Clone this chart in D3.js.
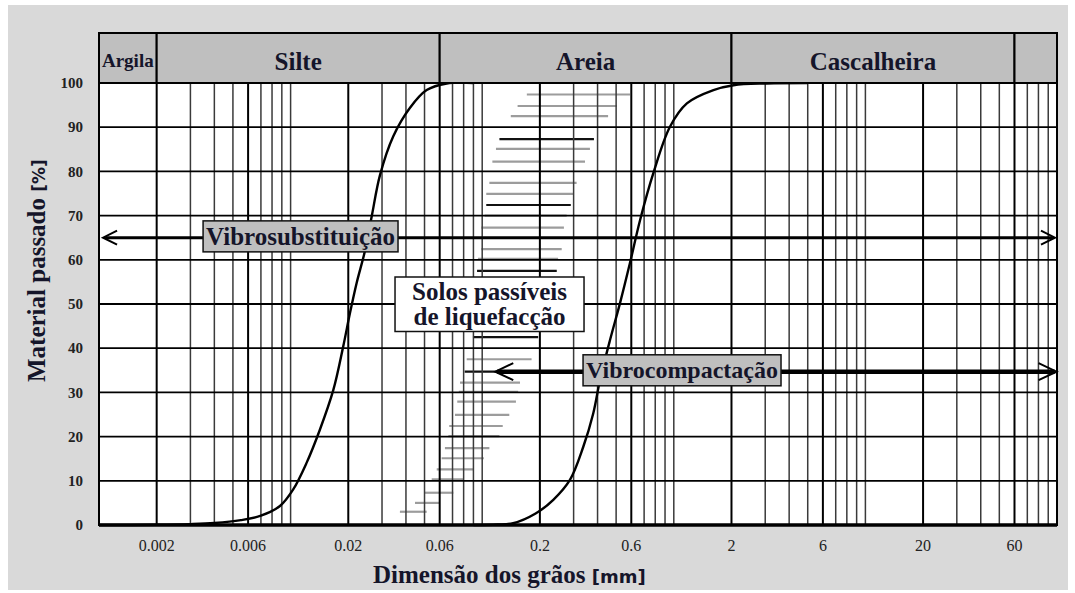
<!DOCTYPE html>
<html><head><meta charset="utf-8">
<script src="https://cdn.jsdelivr.net/npm/d3@7"></script>
<style>html,body{margin:0;padding:0;background:#fff;} svg{display:block}</style>
</head><body><svg id="c" width="1075" height="593"></svg>
<script>
// ---------- data ----------
const xTickLabels = [0.002, 0.006, 0.02, 0.06, 0.2, 0.6, 2, 6, 20, 60];
const yTickValues = [0, 10, 20, 30, 40, 50, 60, 70, 80, 90, 100];
const zoneNames = ["Argila", "Silte", "Areia", "Cascalheira", ""];
const zoneBounds = [0.001, 0.002, 0.06, 2, 60, 100];

const fineSize = [0.001, 0.002, 0.003, 0.004, 0.0055, 0.007, 0.0088, 0.0103, 0.0121, 0.0142, 0.0167, 0.0188, 0.0204, 0.0221, 0.0245, 0.0265, 0.0293, 0.0344, 0.042, 0.0513, 0.0653, 0.09];
const finePct  = [0, 0.05, 0.2, 0.45, 1.1, 2.1, 4.3, 8.0, 14, 21.5, 30.5, 40.3, 47.9, 54.7, 62.2, 69.8, 79.2, 88.0, 94.4, 98.4, 99.9, 100];

const coarseSize = [0.09, 0.12, 0.145, 0.19, 0.235, 0.287, 0.337, 0.38, 0.412, 0.465, 0.524, 0.59, 0.667, 0.782, 0.955, 1.17, 1.61, 2.05, 3.05, 5];
const coarsePct  = [0, 0.1, 0.4, 2.6, 5.7, 10.2, 17.7, 25.3, 32.8, 41.9, 50.2, 59.2, 69, 79.6, 90.1, 95.4, 98.4, 99.5, 99.9, 100];

// liquefiable-soil band (horizontal hatch lines)
const bandPct = [97.4, 94.8, 92.5, 87.3, 85.1, 82.2, 77.4, 74.9, 72.4, 70.0, 67.3, 62.4, 60.2, 57.5, 42.5, 37.5, 34.7, 32.2, 30.1, 27.9, 24.9, 22.4, 20.1, 17.4, 15.1, 12.6, 10.3, 7.3, 5.0, 3.0];
const bandMin = [0.171, 0.153, 0.141, 0.123, 0.118, 0.113, 0.109, 0.105, 0.105, 0.103, 0.099, 0.099, 0.095, 0.094, 0.0895, 0.083, 0.081, 0.0766, 0.0755, 0.0741, 0.0721, 0.0673, 0.0666, 0.0639, 0.0614, 0.0579, 0.0545, 0.0503, 0.0446, 0.0372];
const bandMax = [0.591, 0.505, 0.454, 0.383, 0.365, 0.344, 0.311, 0.301, 0.290, 0.276, 0.267, 0.260, 0.249, 0.245, 0.196, 0.181, 0.158, 0.1575, 0.154, 0.150, 0.1385, 0.128, 0.123, 0.109, 0.102, 0.090, 0.080, 0.0707, 0.0602, 0.0513];

const arrowNames = ["Vibrosubstituição", "Vibrocompactação"];
const arrowPct = [65, 34.7];
const arrowFrom = [0.00105, 0.117];
const arrowTo = [97.6, 99.5];
const arrowLabelAt = [0.01127, 1.104];
const arrowLabelPct = [65.3, 35];

const noteLines = ["Solos passíveis", "de liquefacção"];
const noteAt = [0.1092, 50];

const xTitle = "Dimensão dos grãos";
const xUnit = "[mm]";
const yTitle = "Material passado";
const yUnit = "[%]";

// ---------- styles ----------
const SERIF = "'Liberation Serif','Times New Roman',serif";
const SANS = "'DejaVu Sans',Verdana,sans-serif";
const TXT = "#15152a";
const darkBands = [3, 8, 13, 14, 16];

// ---------- drawing ----------
const svg = d3.select("#c");
const x = d3.scaleLog().domain([0.001, 100]).range([99, 1057]);
const y = d3.scaleLinear().domain([0, 100]).range([525, 83]);
const headerTop = 33;

svg.append("rect").attr("x", 8).attr("y", 5).attr("width", 1060).attr("height", 585).attr("fill", "#d9d9d9");
svg.append("rect").attr("x", x(0.001)).attr("y", y(100)).attr("width", x(100) - x(0.001)).attr("height", y(0) - y(100)).attr("fill", "#fff");

// hatch band
const bands = d3.range(bandPct.length);
svg.append("g").selectAll("line").data(bands).join("line")
  .attr("x1", i => x(bandMin[i])).attr("x2", i => x(bandMax[i]))
  .attr("y1", i => y(bandPct[i])).attr("y2", i => y(bandPct[i]))
  .attr("stroke", i => darkBands.includes(i) ? "#111" : "#9c9c9c")
  .attr("stroke-width", 2.2);

// vertical grid
const vgrid = [];
for (let k = -3; k <= 1; k++) for (let m = 1; m <= 9; m++) {
  const v = +(m * Math.pow(10, k)).toPrecision(6);
  if (v > 0.001 && v < 100) vgrid.push(v);
}
const isMajor = v => xTickLabels.some(t => Math.abs(t - v) / t < 1e-6);
svg.append("g").selectAll("line").data(vgrid).join("line")
  .attr("x1", d => x(d)).attr("x2", d => x(d))
  .attr("y1", y(0)).attr("y2", y(100))
  .attr("stroke", d => isMajor(d) ? "#000" : "#3a3a3a")
  .attr("stroke-width", d => isMajor(d) ? 2 : 1.5);

// horizontal grid
svg.append("g").selectAll("line").data(yTickValues.filter(v => v > 0 && v < 100)).join("line")
  .attr("x1", x(0.001)).attr("x2", x(100))
  .attr("y1", d => y(d)).attr("y2", d => y(d))
  .attr("stroke", "#000").attr("stroke-width", 1.8);

// curves
const line = d3.line().x(d => x(d[0])).y(d => y(d[1])).curve(d3.curveCatmullRom.alpha(0.5));
svg.append("path").attr("d", line(d3.zip(fineSize, finePct))).attr("fill", "none").attr("stroke", "#000").attr("stroke-width", 2.4);
svg.append("path").attr("d", line(d3.zip(coarseSize, coarsePct))).attr("fill", "none").attr("stroke", "#000").attr("stroke-width", 2.4);

// frame
svg.append("rect").attr("x", x(0.001)).attr("y", y(100)).attr("width", x(100) - x(0.001)).attr("height", y(0) - y(100))
  .attr("fill", "none").attr("stroke", "#000").attr("stroke-width", 2);
svg.append("line").attr("x1", x(0.001)).attr("x2", x(100)).attr("y1", y(0)).attr("y2", y(0)).attr("stroke", "#000").attr("stroke-width", 3.5);

// header band
const zones = d3.range(zoneNames.length);
const hg = svg.append("g");
hg.selectAll("rect").data(zones).join("rect")
  .attr("x", i => x(zoneBounds[i])).attr("width", i => x(zoneBounds[i + 1]) - x(zoneBounds[i]))
  .attr("y", headerTop).attr("height", y(100) - headerTop)
  .attr("fill", "#bfbfbf").attr("stroke", "#000").attr("stroke-width", 2);
hg.selectAll("text").data(zones).join("text")
  .attr("x", i => (x(zoneBounds[i]) + x(zoneBounds[i + 1])) / 2)
  .attr("y", i => i === 0 ? 67 : 70)
  .attr("text-anchor", "middle")
  .attr("font-family", SERIF).attr("font-weight", "bold")
  .attr("font-size", i => i === 0 ? 19 : 25)
  .attr("fill", TXT)
  .text(i => zoneNames[i]);

// axis ticks labels
svg.append("g").selectAll("text").data(yTickValues).join("text")
  .attr("x", 83).attr("y", d => y(d)).attr("dy", "0.35em")
  .attr("text-anchor", "end").attr("font-family", SERIF).attr("font-weight", "bold").attr("font-size", 15)
  .attr("fill", "#222").text(d => d);
svg.append("g").selectAll("text").data(xTickLabels).join("text")
  .attr("x", d => x(d)).attr("y", 551)
  .attr("text-anchor", "middle").attr("font-family", SERIF).attr("font-size", 16)
  .attr("fill", "#222").text(d => d);

// axis titles
const xt = svg.append("text").attr("x", 373).attr("y", 583).attr("fill", TXT);
xt.append("tspan").attr("font-family", SERIF).attr("font-weight", "bold").attr("font-size", 25).text(xTitle + " ");
xt.append("tspan").attr("font-family", SANS).attr("font-weight", "bold").attr("font-size", 18).text(xUnit);
const yt = svg.append("text").attr("transform", "translate(45,382) rotate(-90)").attr("fill", TXT);
yt.append("tspan").attr("font-family", SERIF).attr("font-weight", "bold").attr("font-size", 25).text(yTitle + " ");
yt.append("tspan").attr("font-family", SANS).attr("font-weight", "bold").attr("font-size", 17).text(yUnit);

// arrows
const arrowStroke = [3, 4.5];
const headL = [14, 18], headH = [7, 8.5];
arrowNames.forEach((name, i) => {
  const yy = y(arrowPct[i]);
  const x1 = x(arrowFrom[i]), x2 = x(arrowTo[i]);
  const g = svg.append("g");
  g.append("line").attr("x1", x1 + 2).attr("x2", x2 - 2).attr("y1", yy).attr("y2", yy)
    .attr("stroke", "#000").attr("stroke-width", arrowStroke[i]);
  const L = headL[i], H = headH[i];
  g.append("path").attr("d", `M${x1 + L},${yy - H}L${x1},${yy}L${x1 + L},${yy + H}`)
    .attr("fill", "none").attr("stroke", "#000").attr("stroke-width", 2);
  g.append("path").attr("d", `M${x2 - L},${yy - H}L${x2},${yy}L${x2 - L},${yy + H}`)
    .attr("fill", "none").attr("stroke", "#000").attr("stroke-width", 2);
  const cx = x(arrowLabelAt[i]), cy = y(arrowLabelPct[i]);
  const rect = g.append("rect");
  const t = g.append("text").attr("x", cx).attr("y", cy).attr("dy", "0.33em").attr("text-anchor", "middle")
    .attr("font-family", SERIF).attr("font-weight", "bold").attr("font-size", i === 0 ? 25 : 24)
    .attr("fill", TXT).text(name);
  const bb = t.node().getBBox();
  rect.attr("x", bb.x - 3).attr("width", bb.width + 6).attr("y", cy - 15.5).attr("height", 31)
    .attr("fill", "#bfbfbf").attr("stroke", "#111").attr("stroke-width", 1.5);
});

// note box
const ng = svg.append("g");
const nr = ng.append("rect");
const nt = ng.append("text").attr("text-anchor", "middle").attr("font-family", SERIF).attr("font-weight", "bold")
  .attr("font-size", 25).attr("fill", TXT);
const ncx = x(noteAt[0]), ncy = y(noteAt[1]);
noteLines.forEach((s, j) => {
  nt.append("tspan").attr("x", ncx).attr("y", ncy - 4 + j * 25).text(s);
});
nr.attr("x", ncx - 94.5).attr("width", 189).attr("y", ncy - 27).attr("height", 54.5)
  .attr("fill", "#fff").attr("stroke", "#111").attr("stroke-width", 1.5);
</script></body></html>
